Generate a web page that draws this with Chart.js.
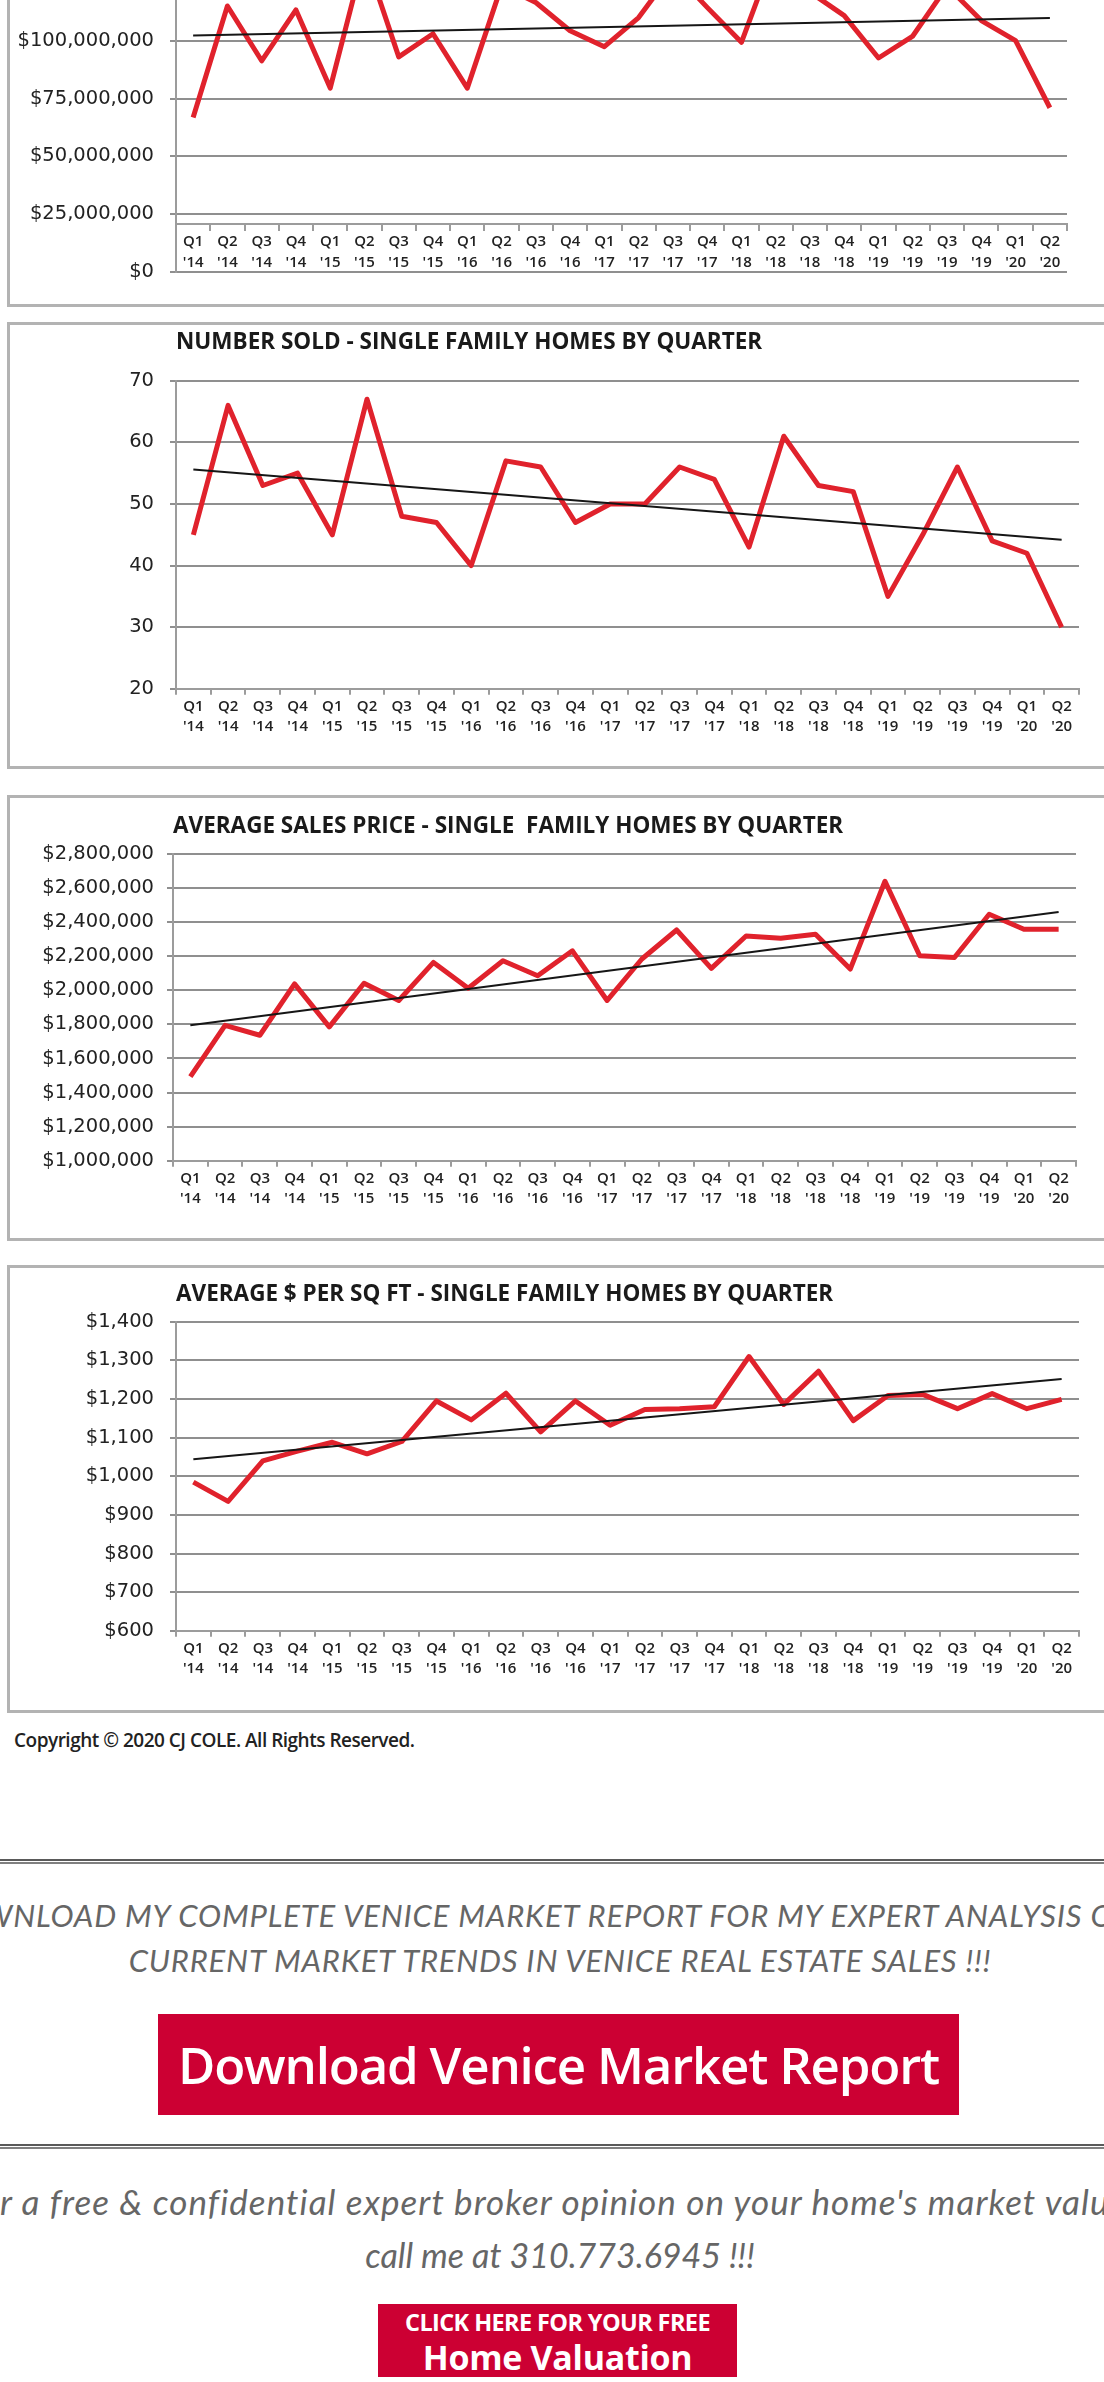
<!DOCTYPE html>
<html>
<head>
<meta charset="utf-8">
<title>Venice Market Charts</title>
<script src="https://cdn.jsdelivr.net/npm/chart.js@4.4.1/dist/chart.umd.min.js"></script>
<style>
    html, body { margin: 0; padding: 0; }
    body {
        width: 1104px; height: 2382px; position: relative; overflow: hidden;
        background: #fff; font-family: 'Open Sans', sans-serif;
    }
    .box {
        position: absolute; left: 7px; width: 1200px;
        border: 3px solid #b3b3b3; box-sizing: border-box; background: #fff;
    }
    .box .wrap { position: absolute; left: 0; top: 0; width: 1100px; }
    #copyright {
        position: absolute; left: 14px; top: 1727px;
        font: 600 19px 'Open Sans', sans-serif; color: #222; letter-spacing: -0.5px;
    }
    .rule {
        position: absolute; left: 0; width: 1104px; height: 1px;
        border-top: 2px solid #5a5a5a; border-bottom: 2px solid #808080;
    }
    .promo {
        position: absolute; left: -140px; width: 1400px; text-align: center;
        font-family: 'Lato', sans-serif; font-style: italic; font-weight: 400;
        color: #666; white-space: nowrap;
    }
    .button {
        position: absolute; background: #cc0033; color: #fff; text-align: center;
        font-family: 'Open Sans', sans-serif;
    }
</style>
</head>
<body>

<div class="box" style="top:-133px; height:440px;"><div class="wrap" style="height:434px;"><canvas id="volumeChart"></canvas></div></div>
<div class="box" style="top:322px; height:447px;"><div class="wrap" style="height:441px;"><canvas id="soldChart"></canvas></div></div>
<div class="box" style="top:795px; height:446px;"><div class="wrap" style="height:440px;"><canvas id="priceChart"></canvas></div></div>
<div class="box" style="top:1265px; height:448px;"><div class="wrap" style="height:442px;"><canvas id="sqftChart"></canvas></div></div>

<div id="copyright">Copyright © 2020 CJ COLE. All Rights Reserved.</div>

<div class="rule" style="top:1859px;"></div>
<div class="promo" style="top:1893px; font-size:31px; line-height:45px; letter-spacing:0.8px;">
    <span style="position:relative; left:-26px;">DOWNLOAD MY COMPLETE VENICE MARKET REPORT FOR MY EXPERT ANALYSIS OF</span><br>CURRENT MARKET TRENDS IN VENICE REAL ESTATE SALES !!!
</div>
<div class="button" style="left:158px; top:2014px; width:801px; height:101px; font-size:51px; font-weight:600; line-height:101px; letter-spacing:-1.2px;">Download Venice Market Report</div>

<div class="rule" style="top:2144px;"></div>
<div class="promo" style="top:2178px; line-height:46px;">
    <span style="position:relative; left:-15px; font-size:35px; letter-spacing:1.07px;">For a free &amp; confidential expert broker opinion on your home's market value</span><br><span style="font-size:34px;">call me at 310.773.6945 !!!</span>
</div>
<div class="button" style="left:378px; top:2304px; width:359px; height:73px; font-weight:700;">
    <div style="position:absolute; left:0; right:0; top:3px; font-size:23.5px; line-height:30px; letter-spacing:-0.6px;">CLICK HERE FOR YOUR FREE</div>
    <div style="position:absolute; left:0; right:0; top:32px; font-size:34px; line-height:42px; letter-spacing:-0.3px;">Home Valuation</div>
</div>

<script>
// osie
const quarterNames = ['Q1','Q2','Q3','Q4','Q1','Q2','Q3','Q4','Q1','Q2','Q3','Q4','Q1','Q2','Q3','Q4','Q1','Q2','Q3','Q4','Q1','Q2','Q3','Q4','Q1','Q2'];
const yearNames = ["'14","'14","'14","'14","'15","'15","'15","'15","'16","'16","'16","'16","'17","'17","'17","'17","'18","'18","'18","'18","'19","'19","'19","'19","'20","'20"];

// serie, trend = [poczatek, koniec]
const salesVolume = [66800000, 115000000, 91300000, 113300000, 79500000, 137000000, 93000000, 103000000, 79500000, 123700000, 116500000, 104300000, 97400000, 110000000, 130000000, 114400000, 99300000, 139000000, 121000000, 110800000, 92500000, 102000000, 123500000, 108700000, 100000000, 71000000];
const salesVolumeTrend = [102200000, 109800000];

const numberSold = [45, 66, 53, 55, 45, 67, 48, 47, 40, 57, 56, 47, 50, 50, 56, 54, 43, 61, 53, 52, 35, 45, 56, 44, 42, 30];
const numberSoldTrend = [55.6, 44.2];

const avgPrice = [1493000, 1794000, 1736000, 2037000, 1785000, 2041000, 1940000, 2163000, 2012000, 2173000, 2085000, 2231000, 1940000, 2183000, 2353000, 2128000, 2318000, 2305000, 2328000, 2124000, 2639000, 2202000, 2192000, 2445000, 2357000, 2357000];
const avgPriceTrend = [1794000, 2458000];

const pricePerSqft = [985, 935, 1040, 1065, 1088, 1058, 1090, 1195, 1146, 1215, 1115, 1195, 1132, 1173, 1175, 1180, 1310, 1186, 1272, 1144, 1209, 1212, 1175, 1214, 1175, 1199];
const pricePerSqftTrend = [1044, 1252];

const GRID = '#8f8f8f';
const AXIS = '#9c9c9c';

function money(value) {
    return '$' + Number(value).toLocaleString('en-US');
}

function buildChart(canvasId, cfg) {
    const labels = quarterNames.map((q, i) => [q, yearNames[i]]);
    const last = labels.length - 1;
    const trend = labels.map((l, i) => i === 0 ? cfg.trend[0] : (i === last ? cfg.trend[1] : null));

    const xScale = {
        offset: true,
        grid: { drawOnChartArea: false, offset: true, tickLength: 6, color: AXIS, lineWidth: 2 },
        border: { display: true, color: AXIS, width: 2 },
        ticks: {
            autoSkip: false, maxRotation: 0, padding: 2, color: '#222',
            font: { family: 'Open Sans', weight: '600', size: 15, lineHeight: 1.34 }
        }
    };
    if (cfg.xAt !== undefined) xScale.position = { y: cfg.xAt };

    new Chart(document.getElementById(canvasId), {
        type: 'line',
        data: {
            labels: labels,
            datasets: [
                { data: trend, borderColor: '#161616', borderWidth: 2, pointRadius: 0, spanGaps: true, order: 0 },
                { data: cfg.values, borderColor: '#e0222c', borderWidth: 5, pointRadius: 0,
                  borderJoinStyle: 'round', order: 1 }
            ]
        },
        options: {
            responsive: true,
            maintainAspectRatio: false,
            animation: false,
            events: [],
            layout: { padding: { top: cfg.padTop || 0, bottom: cfg.padBottom, right: cfg.padRight, left: 0 } },
            plugins: {
                legend: { display: false },
                tooltip: { enabled: false },
                title: {
                    display: !!cfg.title,
                    text: cfg.title || '',
                    align: 'start',
                    fullSize: false,
                    color: '#1a1a1a',
                    font: { family: 'Open Sans', weight: '700', size: 22.5, lineHeight: 1.1 },
                    padding: cfg.titlePad || 0
                }
            },
            scales: {
                x: xScale,
                y: {
                    min: cfg.min, max: cfg.max,
                    grid: { color: GRID, lineWidth: 2, tickLength: 6, tickColor: GRID },
                    border: { display: true, color: AXIS, width: 2 },
                    ticks: {
                        stepSize: cfg.step, padding: cfg.labelGap, color: '#222',
                        font: { family: 'DejaVu Sans', size: 19.5 },
                        callback: cfg.format || (v => v)
                    },
                    afterFit: scale => { scale.width = cfg.axisX - 10; }
                }
            }
        }
    });
}

buildChart('volumeChart', {
    values: salesVolume, trend: salesVolumeTrend,
    min: 0, max: 150000000, step: 25000000, format: money,
    xAt: 20700000, padTop: 55, padBottom: 32, padRight: 43, axisX: 176, labelGap: 16
});

buildChart('soldChart', {
    title: 'NUMBER SOLD - SINGLE FAMILY HOMES BY QUARTER', titlePad: { top: 5, bottom: 26 },
    values: numberSold, trend: numberSoldTrend,
    min: 20, max: 70, step: 10,
    padBottom: 27, padRight: 31, axisX: 176, labelGap: 16
});

buildChart('priceChart', {
    title: 'AVERAGE SALES PRICE - SINGLE  FAMILY HOMES BY QUARTER', titlePad: { top: 16, bottom: 15 },
    values: avgPrice, trend: avgPriceTrend,
    min: 1000000, max: 2800000, step: 200000, format: money,
    padBottom: 27, padRight: 34, axisX: 173, labelGap: 13
});

buildChart('sqftChart', {
    title: 'AVERAGE $ PER SQ FT - SINGLE FAMILY HOMES BY QUARTER', titlePad: { top: 14, bottom: 15 },
    values: pricePerSqft, trend: pricePerSqftTrend,
    min: 600, max: 1400, step: 100, format: money,
    padBottom: 29, padRight: 31, axisX: 176, labelGap: 16
});
</script>
</body>
</html>
